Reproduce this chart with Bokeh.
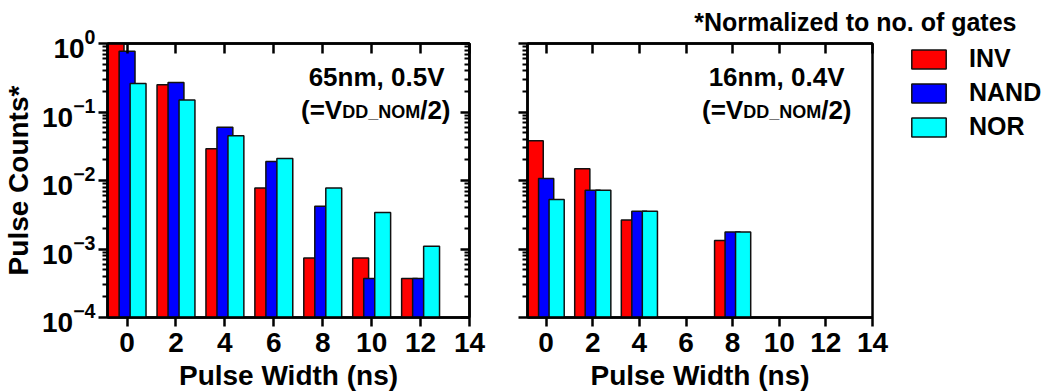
from bokeh.plotting import figure
from bokeh.models import (Range1d, LinearAxis, LogAxis, FixedTicker, Label,
                          Legend, LegendItem, ColumnDataSource, Title)
from bokeh.layouts import row
from bokeh.transform import dodge
from bokeh.embed import file_html
from bokeh.resources import INLINE

# ---------------- data ----------------
pulse_width_65 = [0, 2, 4, 6, 8, 10, 12]
inv_65 = [1.0, 0.25, 0.029, 0.0078, 0.00074, 0.00074, 0.00037]
nand_65 = [0.77, 0.27, 0.060, 0.019, 0.0042, 0.00037, 0.00037]
nor_65 = [0.26, 0.15, 0.045, 0.021, 0.0078, 0.0034, 0.0011]

pulse_width_16 = [0, 2, 4, 8]
inv_16 = [0.038, 0.0148, 0.00266, 0.00133]
nand_16 = [0.0107, 0.0072, 0.00355, 0.00177]
nor_16 = [0.0053, 0.0072, 0.00355, 0.00177]

series = ["INV", "NAND", "NOR"]
colors = ["#FF0000", "#0000FF", "#00FFFF"]
offsets = [-0.45, 0.0, 0.45]

x_ticks = [0, 2, 4, 6, 8, 10, 12, 14]
y_ticks = [1e-4, 1e-3, 1e-2, 1e-1, 1.0]
y_minor = [m * 10.0 ** e for e in range(-4, 0) for m in range(2, 10)]

panel_text = [("65nm, 0.5V", "(=V", "DD_NOM", "/2)"),
              ("16nm, 0.4V", "(=V", "DD_NOM", "/2)")]
note_text = "*Normalized to no. of gates"
x_label = "Pulse Width (ns)"
y_label = "Pulse Counts*"

FONT = "Liberation Sans"
FRAME_H = 274
TOP_B = 43
BOT_B = 75
X0, X1 = -0.8, 14
Y0, Y1 = 1e-4, 1.0


def hide_labels(ax):
    ax.major_label_text_font_size = "1px"
    ax.major_label_text_alpha = 0
    ax.major_label_standoff = 0


def make_panel(xs, vals, frame_w, border_left, border_right, show_ylabels,
               right_ticks, texts, text_right):
    p = figure(frame_width=frame_w, frame_height=FRAME_H,
               x_range=Range1d(X0, X1), y_range=Range1d(Y0, Y1),
               y_axis_type="log", output_backend="svg", toolbar_location=None,
               min_border_left=border_left, min_border_right=border_right,
               min_border_top=TOP_B, min_border_bottom=BOT_B,
               background_fill_color="white", border_fill_color="white")
    p.xgrid.visible = False
    p.ygrid.visible = False
    p.outline_line_color = "black"
    p.outline_line_width = 2.5
    p.outline_line_alpha = 1.0

    src = ColumnDataSource(dict(x=xs, INV=vals[0], NAND=vals[1], NOR=vals[2]))
    renderers = []
    for name, col, off in zip(series, colors, offsets):
        r = p.vbar(x=dodge("x", off, range=p.x_range), top=name, bottom=Y0,
                   width=0.65, source=src, fill_color=col, line_color="#111111",
                   line_width=1.5)
        renderers.append(r)

    # bottom axis
    xa = p.xaxis[0]
    xa.ticker = FixedTicker(ticks=x_ticks)
    xa.major_tick_in = 0
    xa.major_tick_out = 9
    xa.minor_tick_in = 0
    xa.minor_tick_out = 0
    xa.axis_line_width = 2.5
    xa.major_tick_line_width = 2.5
    xa.major_label_text_font = FONT
    xa.major_label_text_font_style = "bold"
    xa.major_label_text_font_size = "28px"
    xa.major_label_text_color = "black"
    xa.major_label_standoff = 6
    xa.axis_label = x_label
    xa.axis_label_text_font = FONT
    xa.axis_label_text_font_style = "bold"
    xa.axis_label_text_font_size = "28px"
    xa.axis_label_text_color = "black"
    xa.axis_label_standoff = 5

    # left axis
    ya = p.yaxis[0]
    ya.ticker = FixedTicker(ticks=y_ticks, minor_ticks=y_minor)
    ya.major_tick_in = 0
    ya.major_tick_out = 9
    ya.minor_tick_in = 0
    ya.minor_tick_out = 5
    ya.axis_line_width = 2.5
    ya.major_tick_line_width = 2.5
    ya.minor_tick_line_width = 2
    if show_ylabels:
        ya.major_label_text_font = FONT
        ya.major_label_text_font_style = "bold"
        ya.major_label_text_font_size = "28px"
        ya.major_label_text_color = "black"
        ya.major_label_standoff = 3
        ya.axis_label = y_label
        ya.axis_label_text_font = FONT
        ya.axis_label_text_font_style = "bold"
        ya.axis_label_text_font_size = "28px"
        ya.axis_label_text_color = "black"
        ya.axis_label_standoff = 5
    else:
        hide_labels(ya)

    # top axis: ticks only, inside
    top = LinearAxis(ticker=FixedTicker(ticks=x_ticks),
                     major_tick_in=10, major_tick_out=0,
                     minor_tick_in=0, minor_tick_out=0, axis_line_width=2.5,
                     major_tick_line_width=2.5)
    hide_labels(top)
    p.add_layout(top, "above")

    if right_ticks:
        rt = LogAxis(ticker=FixedTicker(ticks=y_ticks, minor_ticks=y_minor),
                     major_tick_in=9, major_tick_out=0, minor_tick_in=5,
                     minor_tick_out=0, axis_line_width=2.5,
                     major_tick_line_width=2.5, minor_tick_line_width=2)
        hide_labels(rt)
        p.add_layout(rt, "right")

    # annotation texts
    line1, pre, sub, post = texts
    y1 = FRAME_H - 33
    y2 = FRAME_H - 66
    common = dict(x_units="screen", y_units="screen", text_font=FONT,
                  text_font_style="bold", text_color="black",
                  text_baseline="alphabetic", text_align="right")
    p.add_layout(Label(x=text_right[0], y=y1, text=line1, text_font_size="26px", **common))
    r2 = text_right[1]
    p.add_layout(Label(x=r2, y=y2, text=post, text_font_size="26px", **common))
    p.add_layout(Label(x=r2 - 30.3, y=y2 - 2, text=sub, text_font_size="18px", **common))
    p.add_layout(Label(x=r2 - 30.3 - 78.0, y=y2, text=pre, text_font_size="26px", **common))
    return p, renderers


p1, _ = make_panel(pulse_width_65, [inv_65, nand_65, nor_65], 362, 96, 20, True, True,
                   panel_text[0], (337, 343))
p2, rends = make_panel(pulse_width_16, [inv_16, nand_16, nor_16], 345, 38, 171, False, False,
                       panel_text[1], (317, 324))

p2.title = Title(text=note_text, align="right", offset=-144, standoff=12,
                 vertical_align="top", text_font=FONT, text_font_style="bold",
                 text_font_size="25px", text_color="black")

LEG_H = 94
legend = Legend(items=[LegendItem(label=s, renderers=[r]) for s, r in zip(series, rends)],
                location=(35, FRAME_H - 4 - LEG_H), orientation="vertical",
                glyph_width=43, glyph_height=24, label_height=24, spacing=5,
                label_standoff=19, padding=0, margin=0,
                label_text_font=FONT, label_text_font_style="bold",
                label_text_font_size="25px", label_text_color="black",
                border_line_alpha=0, background_fill_alpha=0)
p2.add_layout(legend, "right")

layout = row(p1, p2)
open("out.html", "w").write(file_html(layout, INLINE))
